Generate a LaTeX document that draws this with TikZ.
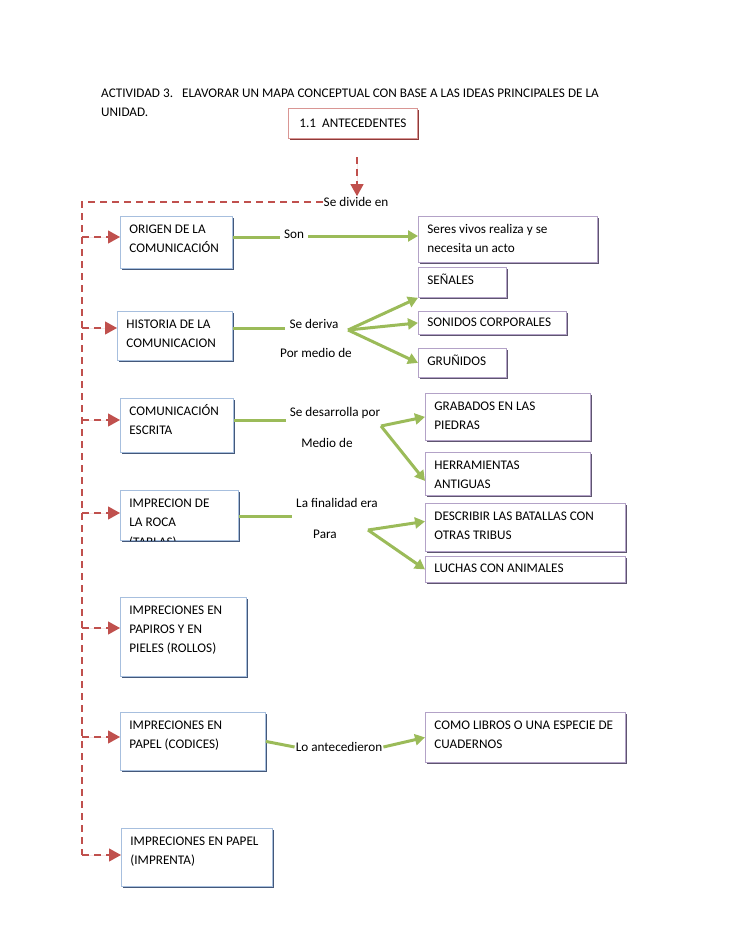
\documentclass[tikz,border=0pt]{standalone}
\usepackage{fontspec}
\setmainfont{Carlito}
\usepackage{tikz}
\usetikzlibrary{arrows.meta,shadows}
\definecolor{redline}{HTML}{C0504D}
\definecolor{greenline}{HTML}{9BBB59}
\definecolor{lborder}{HTML}{A7BFDE}
\definecolor{lshadow}{HTML}{44587A}
\definecolor{rborder}{HTML}{B3A2C7}
\definecolor{rshadow}{HTML}{5E5570}
\definecolor{aborder}{HTML}{D99694}
\definecolor{ashadow}{HTML}{8E3B3A}

\begin{document}
\begin{tikzpicture}[x=1pt,y=-1pt,
every node/.style={font=\fontsize{13.2}{19}\selectfont},
lbox/.style={draw=lborder,fill=white,line width=0.8pt,anchor=north west,align=left,inner xsep=9pt,inner ysep=6pt,text height=11pt,
  execute at begin node={\spaceskip=0pt\xspaceskip=0pt},
  general shadow={fill=lshadow,shadow xshift=2pt,shadow yshift=-2pt}},
rbox/.style={draw=rborder,fill=white,line width=0.8pt,anchor=north west,align=left,inner xsep=9pt,inner ysep=6pt,text height=11pt,
  execute at begin node={\spaceskip=0pt\xspaceskip=0pt},
  general shadow={fill=rshadow,shadow xshift=2pt,shadow yshift=-2pt}},
abox/.style={draw=aborder,fill=white,line width=0.8pt,anchor=north west,align=center,inner sep=0pt,
  general shadow={fill=ashadow,shadow xshift=2pt,shadow yshift=-2pt}},
lbl/.style={inner xsep=4pt,inner ysep=1pt},
rdash/.style={draw=redline,line width=1.2pt,dash pattern=on 7pt off 5pt},
rtip/.style={-{Triangle[length=12pt,width=13pt]}},
gline/.style={draw=greenline,line width=3pt},
gtip/.style={-{Triangle[length=10pt,width=11pt]}}]
\useasboundingbox (0,0) rectangle (728,942);

% titulo
\path (101,93) node (title1) [anchor=west,inner sep=0pt] {ACTIVIDAD 3.\hspace{9pt}ELAVORAR UN MAPA CONCEPTUAL CON BASE A LAS IDEAS PRINCIPALES DE LA};
\path (101,112) node (title2) [anchor=west,inner sep=0pt] {UNIDAD.};
\path (288,108) node (antec) [abox,minimum width=129pt,minimum height=30pt] {1.1\hspace{6pt}ANTECEDENTES};

% columna izquierda
\path (120,216) node (origen) [lbox,text width=94pt,text depth=29pt] {ORIGEN DE LA\\COMUNICACIÓN};
\path (117,311) node (historia) [lbox,text width=97pt,text depth=26pt] {HISTORIA DE LA\\COMUNICACION};
\path (120,398) node (escrita) [lbox,text width=95pt,text depth=31pt] {COMUNICACIÓN\\ESCRITA};
\path (120,490) node (roca) [lbox,text width=100pt,text depth=27pt] {IMPRECION DE\\LA ROCA};
\path (120,597) node (papiros) [lbox,text width=108pt,text depth=56pt] {IMPRECIONES EN\\PAPIROS Y EN\\PIELES (ROLLOS)};
\path (120,712) node (codices) [lbox,text width=127pt,text depth=35pt] {IMPRECIONES EN\\PAPEL (CODICES)};
\path (121,828) node (imprenta) [lbox,text width=133pt,text depth=35pt] {IMPRECIONES EN PAPEL\\(IMPRENTA)};
\begin{scope}
\clip (roca.north west) rectangle (roca.south east);
\path (roca.north west) ++(9,56) node (tablas) [anchor=base west,inner sep=0pt] {(TABLAS)};
\end{scope}

% columna derecha
\path (418,216) node (seres) [rbox,text width=161pt,text depth=23pt] {Seres vivos realiza y se\\necesita un acto};
\path (418,267) node (senales) [rbox,text width=70pt,text depth=7pt] {SEÑALES};
\path (418,311) node (sonidos) [rbox,inner ysep=4pt,text width=130pt,text depth=4pt] {SONIDOS CORPORALES};
\path (418,348) node (grunidos) [rbox,text width=70pt,text depth=6pt] {GRUÑIDOS};
\path (425,393) node (grabados) [rbox,text width=147pt,text depth=24pt] {GRABADOS EN LAS\\PIEDRAS};
\path (425,452) node (herram) [rbox,text width=147pt,text depth=20pt] {HERRAMIENTAS\\ANTIGUAS};
\path (425,503) node (batallas) [rbox,text width=182pt,text depth=25pt] {DESCRIBIR LAS BATALLAS CON\\OTRAS TRIBUS};
\path (425,556) node (luchas) [rbox,inner ysep=5pt,text width=182pt,text depth=5pt] {LUCHAS CON ANIMALES};
\path (425,712) node (libros) [rbox,text width=182pt,text depth=27pt] {COMO LIBROS O UNA ESPECIE DE\\CUADERNOS};

% etiquetas
\path (356,202) node (divide) [lbl,inner xsep=1pt] {Se divide en};
\path (294,234) node (son) [lbl] {Son};
\path (314,324) node (deriva) [lbl] {Se deriva};
\path (316,353) node (pormedio) [lbl] {Por medio de};
\path (335,413) node (desarrolla) [lbl] {Se desarrolla por};
\path (327,443) node (mediode) [lbl] {Medio de};
\path (337,503) node (finalidad) [lbl] {La finalidad era};
\path (325,534) node (para) [lbl] {Para};
\path (339,747) node (antecedieron) [lbl,inner xsep=1pt] {Lo antecedieron};

% puntos de la linea roja
\coordinate (adown) at (357,157);
\coordinate (corner) at (82,202);
\coordinate (s1) at (82,237);
\coordinate (s2) at (82,328);
\coordinate (s3) at (82,420);
\coordinate (s4) at (82,513);
\coordinate (s5) at (82,628);
\coordinate (s6) at (82,737);
\coordinate (s7) at (82,855);

\draw [rdash,rtip,fill=redline] (adown) to (divide.north -| adown);
\draw [rdash] (divide.west) -- (corner) -- (s7);
\draw [rdash,rtip,fill=redline] (s1) to (s1 -| origen.west);
\draw [rdash,rtip,fill=redline] (s2) to (s2 -| historia.west);
\draw [rdash,rtip,fill=redline] (s3) to (s3 -| escrita.west);
\draw [rdash,rtip,fill=redline] (s4) to (s4 -| roca.west);
\draw [rdash,rtip,fill=redline] (s5) to (s5 -| papiros.west);
\draw [rdash,rtip,fill=redline] (s6) to (s6 -| codices.west);
\draw [rdash,rtip,fill=redline] (s7) to (s7 -| imprenta.west);

% flechas verdes
\coordinate (fk1) at (348,330);
\coordinate (fk2) at (381,426);
\coordinate (fk3) at (368,530);

\draw [gline] (origen.east |- 0,237) to (son.west |- 0,237);
\draw [gline,gtip,fill=greenline] (son.east |- 0,236) to (seres.west |- 0,236);

\draw [gline] (historia.east |- 0,328) to (deriva.west |- 0,328);
\draw [gline,gtip,fill=greenline] (fk1) to (senales.south west);
\draw [gline,gtip,fill=greenline] (fk1) to (sonidos.west);
\draw [gline,gtip,fill=greenline] (fk1) to (grunidos.west);

\draw [gline] (escrita.east |- 0,420) to (desarrolla.west |- 0,420);
\draw [gline,gtip,fill=greenline] (fk2) to (grabados.west);
\draw [gline,gtip,fill=greenline] (fk2) to ([yshift=-7pt]herram.west);

\draw [gline] (roca.east |- 0,516) to (finalidad.south west |- 0,516);
\draw [gline,gtip,fill=greenline] (fk3) to ([yshift=6pt]batallas.west);
\draw [gline,gtip,fill=greenline] (fk3) to (luchas.west);

\draw [gline] (codices.east) to (antecedieron.west);
\draw [gline,gtip,fill=greenline] (antecedieron.east) to (libros.west);
\end{tikzpicture}
\end{document}
